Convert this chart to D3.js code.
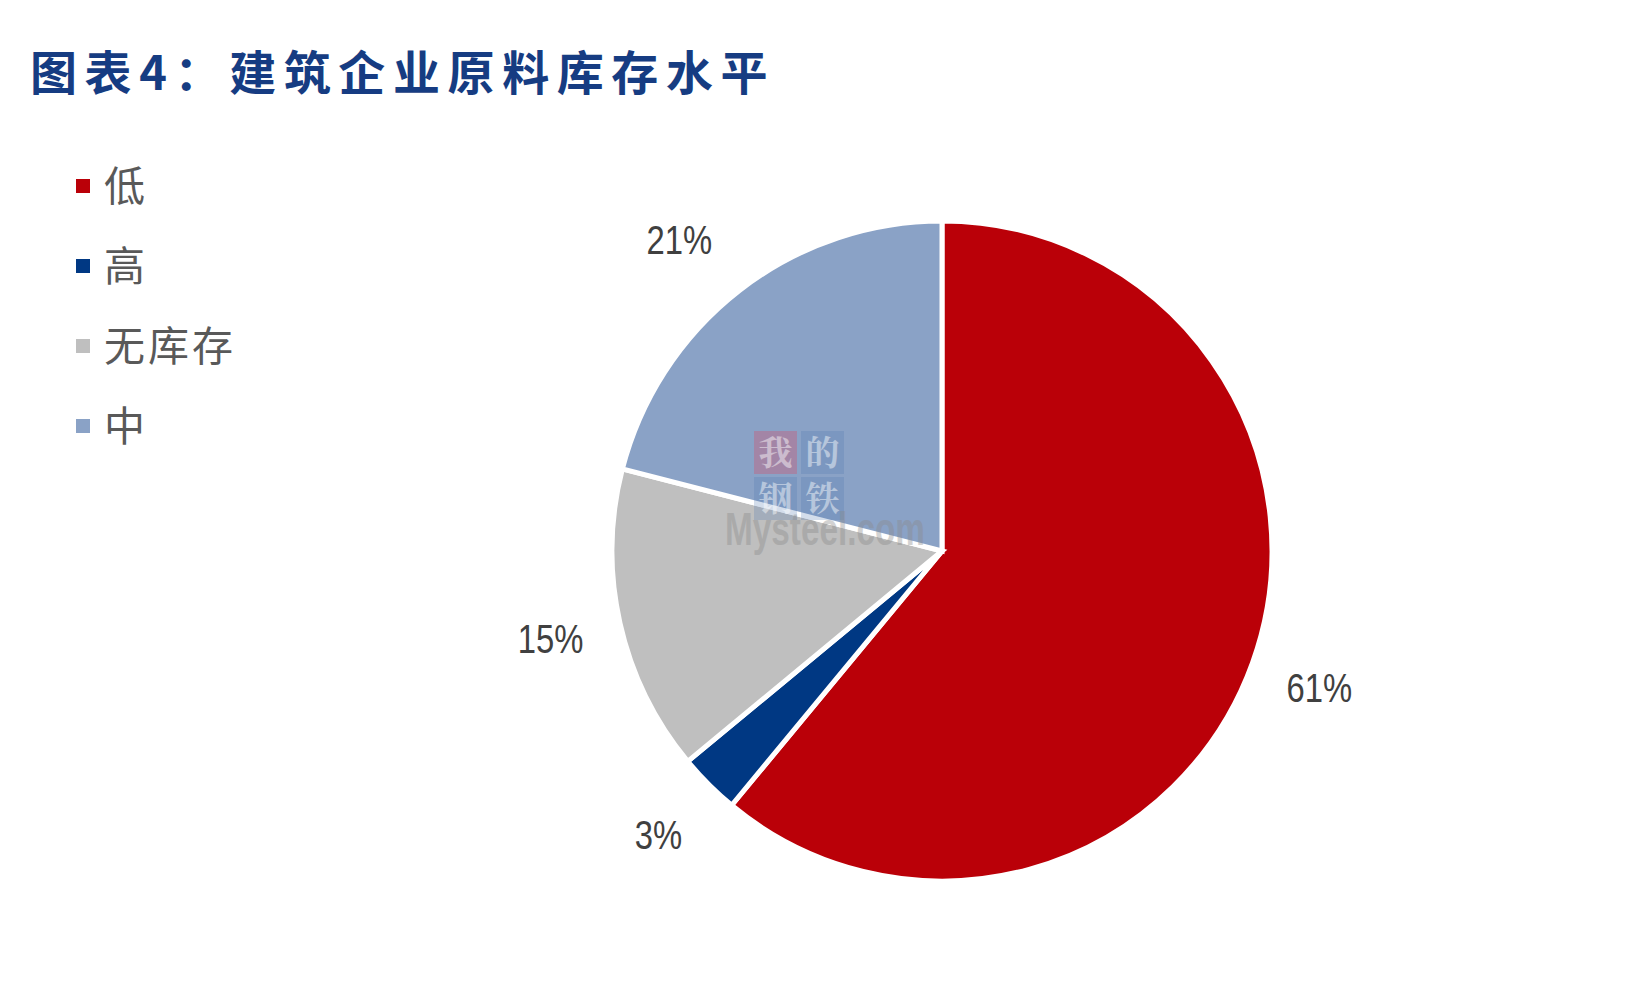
<!DOCTYPE html>
<html><head><meta charset="utf-8">
<script src="https://cdn.jsdelivr.net/npm/d3@7"></script>
<style>html,body{margin:0;padding:0;background:#fff;}svg{display:block;}</style>
</head><body>
<svg id="chart" width="1651" height="990"></svg>
<script>
const categories = ["低", "高", "无库存", "中"];
const values = [61, 3, 15, 21];
const labels = ["61%", "3%", "15%", "21%"];
const colors = ["#BA0008", "#003883", "#BFBFBF", "#8AA2C6"];
const title = "图表4：建筑企业原料库存水平";

const svg = d3.select("#chart");
const cx = 942, cy = 551, R = 330, LR = 401;
const labelNudge = [[0, 0], [0, 0], [0, 0], [-17, 5]];

svg.append("text").attr("x", 30).attr("y", 90)
  .attr("font-family", "'Noto Sans CJK SC'").attr("font-weight", 700)
  .attr("font-size", 47).attr("letter-spacing", 7.6).attr("fill", "#163C82")
  .text(title);

// legend
const leg = svg.append("g");
categories.forEach((c, i) => {
  const y = 186 + i * 80;
  leg.append("rect").attr("x", 76).attr("y", y - 7).attr("width", 14).attr("height", 14).attr("fill", colors[i]);
  leg.append("text").attr("x", 104).attr("y", y).attr("dy", "0.36em")
    .attr("font-family", "'Noto Sans CJK SC'").attr("font-size", 41).attr("letter-spacing", 3).attr("fill", "#595959")
    .text(c);
});

const pie = d3.pie().sort(null).startAngle(0).endAngle(2 * Math.PI);
const arcs = pie(values);
const arc = d3.arc().innerRadius(0).outerRadius(R);
const labelArc = d3.arc().innerRadius(LR).outerRadius(LR);
const g = svg.append("g").attr("transform", `translate(${cx},${cy})`);
g.selectAll("path").data(arcs).join("path")
  .attr("d", arc).attr("fill", (d, i) => colors[i])
  .attr("stroke", "#fff").attr("stroke-width", 5).attr("stroke-linejoin", "miter");

// watermark
const wm = svg.append("g");
const boxes = [["我", 754, 431, "#d0506a", 0.35], ["的", 801, 431, "#4f78b0", 0.25], ["钢", 754, 477, "#4f78b0", 0.25], ["铁", 801, 477, "#4f78b0", 0.25]];
boxes.forEach(b => {
  wm.append("rect").attr("x", b[1]).attr("y", b[2]).attr("width", 43).attr("height", 43).attr("fill", b[3]).attr("opacity", b[4]);
  wm.append("text").attr("x", b[1] + 21.5).attr("y", b[2] + 22).attr("dy", "0.36em").attr("text-anchor", "middle")
    .attr("font-family", "'Noto Serif CJK SC','Noto Sans CJK SC'").attr("font-weight", 700).attr("font-size", 34)
    .attr("fill", "#fff").attr("opacity", 0.45).text(b[0]);
});
wm.append("text").attr("x", 725).attr("y", 545).attr("textLength", 200).attr("lengthAdjust", "spacingAndGlyphs")
  .attr("font-family", "'Liberation Sans'").attr("font-weight", 700).attr("font-size", 46)
  .attr("fill", "#8a8a8a").attr("opacity", 0.38).text("Mysteel.com");

// labels
g.selectAll("text.lbl").data(arcs).join("text").attr("class", "lbl")
  .attr("transform", (d, i) => { const c = labelArc.centroid(d); return `translate(${c[0] + labelNudge[i][0]},${c[1] + labelNudge[i][1]}) scale(0.8,1)`; })
  .attr("text-anchor", "middle").attr("dy", "0.36em")
  .attr("font-family", "'Liberation Sans'").attr("font-size", 41).attr("fill", "#404040")
  .text((d, i) => labels[i]);
</script>
</body></html>
